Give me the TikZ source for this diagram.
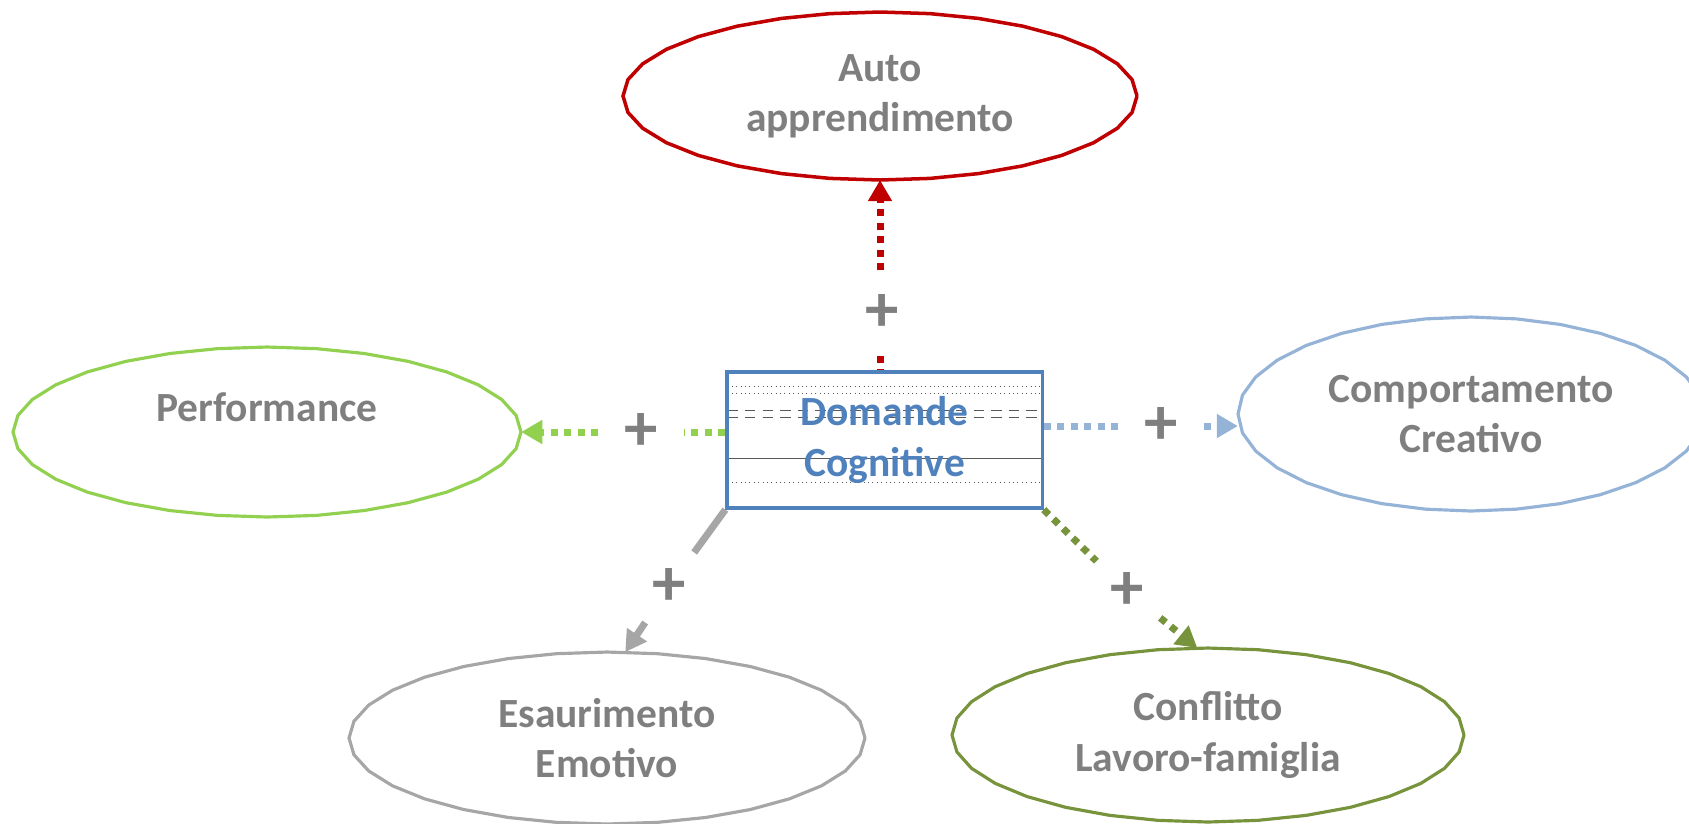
\documentclass[tikz,border=0pt]{standalone}
\usepackage{fontspec}
\setmainfont{Carlito}
\usetikzlibrary{calc,shapes.geometric,arrows.meta,backgrounds}

\definecolor{rosso}{HTML}{C00000}
\definecolor{verde}{HTML}{92D050}
\definecolor{azzurro}{HTML}{95B3D7}
\definecolor{oliva}{HTML}{77933C}
\definecolor{grigio}{HTML}{A6A6A6}
\definecolor{blu}{HTML}{4F81BD}
\definecolor{testo}{HTML}{7F7F7F}

\tikzset{
  ovale/.style={ellipse, inner sep=0pt, outer sep=0pt, align=center, text=testo,
    font=\fontsize{11.8}{14.3}\selectfont\bfseries},
  bordo/.style={line width=0.9pt},
  segno/.style={circle, inner sep=0pt, minimum size=0.84cm, text=testo,
    font=\fontsize{19}{19}\selectfont\bfseries},
  puntini/.style={line width=2pt, dash pattern=on 2pt off 1.85pt},
  punta/.style={-{Triangle[width=6.5pt,length=6pt]}},
}

\begin{document}
\begin{tikzpicture}[x=0.01cm, y=-0.01cm]
        \useasboundingbox (0,0) rectangle (1689,823);

        \node[draw=blu, line width=0.9pt, minimum width=3.15cm, minimum height=1.36cm,
          inner sep=0pt, align=center, text=blu,
          font=\fontsize{11.8}{14.3}\selectfont\bfseries] (dom) at (884.5,440) {Domande\\Cognitive};

        \node[ovale, minimum width=5.14cm, minimum height=1.68cm] (auto) at (880,96) {Auto\\apprendimento};
        \node[ovale, minimum width=5.08cm, minimum height=1.70cm] (perf) at (267,432) {Performance\\\phantom{P}};
        \node[ovale, minimum width=4.66cm, minimum height=1.94cm] (crea) at (1471,414) {Comportamento\\Creativo};
        \node[ovale, minimum width=5.16cm, minimum height=1.72cm] (esau) at (607,738) {Esaurimento\\Emotivo};
        \node[ovale, minimum width=5.12cm, minimum height=1.74cm] (confl) at (1208,735) {Conflitto\\Lavoro-famiglia};

        %
        \draw[rosso, line width=1pt, shift={(auto.center)}] plot[samples=33, domain=0:360] ({257*cos(\x)},{84*sin(\x)});
        \draw[verde, bordo, shift={(perf.center)}] plot[samples=33, domain=0:360] ({254*cos(\x)},{85*sin(\x)});
        \draw[azzurro, bordo, shift={(crea.center)}] plot[samples=33, domain=0:360] ({233*cos(\x)},{97*sin(\x)});
        \draw[grigio, bordo, shift={(esau.center)}] plot[samples=33, domain=0:360] ({258*cos(\x)},{86*sin(\x)});
        \draw[oliva, bordo, shift={(confl.center)}] plot[samples=33, domain=0:360] ({256*cos(\x)},{87*sin(\x)});

        \begin{scope}[on background layer]
          \foreach \d/\tipo in {16/densely dotted, 23/densely dotted, 40/densely dashed, 47/densely dashed, 88/solid, 112/densely dotted}
            \draw[\tipo, line width=0.25pt, black!65] ($(dom.north west)+(2,\d)$) -- ($(dom.north east)+(-2,\d)$);
        \end{scope}

        \node[segno] (piuA) at (882,313) {+};
        \node[segno] (piuP) at (641,432) {+};
        \node[segno] (piuC) at (1161,426) {+};
        \node[segno] (piuE) at (669,587) {+};
        \node[segno] (piuL) at (1127,591) {+};

        \draw[rosso, puntini] (auto |- piuA.south) -- (auto |- dom.north);
        \draw[rosso, puntini, punta] (auto |- piuA.north) -- (auto.south);

        \draw[verde, puntini] (dom.west |- perf) -- (piuP);
        \draw[verde, puntini, punta] (piuP) -- (perf);

        \draw[azzurro, puntini] (dom.east |- piuC) -- (piuC);
        \draw[azzurro, puntini, punta] (piuC) -- (piuC -| crea.west);

        \draw[grigio, line width=2pt] (dom.south west) -- (piuE);
        \draw[grigio, line width=2pt, punta] (piuE) -- (esau.78);

        \draw[oliva, puntini] (dom.south east) -- (piuL);
        \draw[oliva, puntini, punta] (piuL) -- (confl.97);
\end{tikzpicture}
\end{document}
